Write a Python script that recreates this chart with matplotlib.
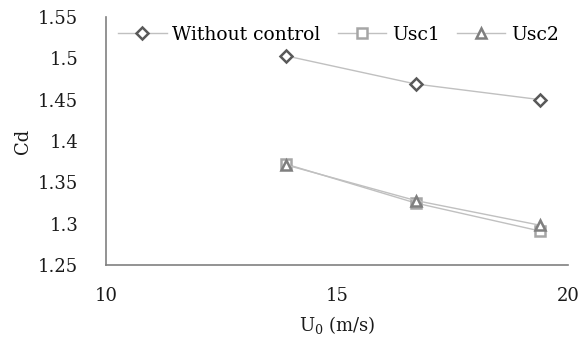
import matplotlib
matplotlib.use("Agg")
import matplotlib.pyplot as plt

plt.rcParams['font.family'] = ['DejaVu Serif']
plt.rcParams['mathtext.fontset'] = 'dejavuserif'

u0 = [13.9, 16.7, 19.4]
without_control = [1.503, 1.469, 1.450]
usc1 = [1.372, 1.325, 1.291]
usc2 = [1.371, 1.328, 1.298]

line_col = '#c0c0c0'
txt_col = '#1a1a1a'

fig = plt.figure(figsize=(5.82, 3.41), dpi=100)
ax = fig.add_axes([0.182, 0.223, 0.794, 0.727])

ax.plot(u0, without_control, color=line_col, lw=1.0, marker='D', ms=6,
        mfc='white', mec='#595959', mew=1.8, label='Without control')
ax.plot(u0, usc1, color=line_col, lw=1.0, marker='s', ms=7,
        mfc='white', mec='#a6a6a6', mew=1.8, label='Usc1')
ax.plot(u0, usc2, color=line_col, lw=1.0, marker='^', ms=7,
        mfc='white', mec='#7f7f7f', mew=1.8, label='Usc2')

ax.set_xlim(10, 20)
ax.set_ylim(1.25, 1.55)
ax.set_xticks([10, 15, 20])
ax.set_yticks([1.25, 1.3, 1.35, 1.4, 1.45, 1.5, 1.55])
ax.set_yticklabels(['1.25', '1.3', '1.35', '1.4', '1.45', '1.5', '1.55'])
ax.tick_params(length=0, labelsize=13, colors=txt_col, pad=20)
ax.tick_params(axis='x', pad=16)

for s in ['top', 'right']:
    ax.spines[s].set_visible(False)
for s in ['left', 'bottom']:
    ax.spines[s].set_color('#808080')
    ax.spines[s].set_linewidth(1.2)

ax.set_xlabel('U$_0$ (m/s)', fontsize=13, color=txt_col, labelpad=6)
ax.set_ylabel('Cd', fontsize=13, color=txt_col, labelpad=4)

ax.legend(loc='upper left', bbox_to_anchor=(0.01, 0.995), ncol=3, frameon=False,
          fontsize=13.5, handlelength=2.6, columnspacing=0.9, handletextpad=0.3,
          borderaxespad=0)

fig.savefig('out.png', dpi=100)
